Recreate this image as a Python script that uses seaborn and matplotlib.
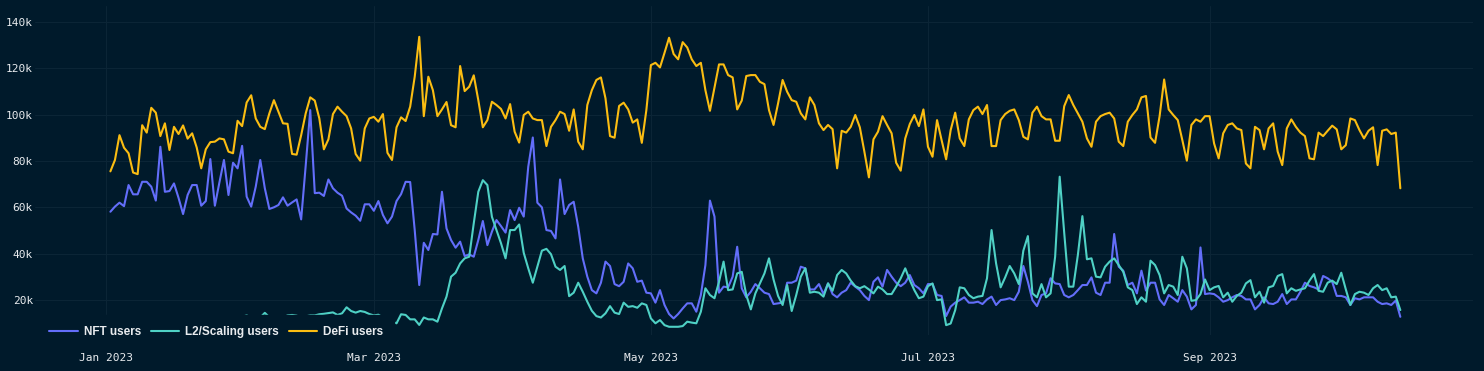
import pandas as pd
import numpy as np
import seaborn as sns
import matplotlib.pyplot as plt
import matplotlib.dates as mdates
from matplotlib.ticker import FuncFormatter, MultipleLocator

# daily values, first day 2023-01-02, in thousands of users
start_date = '2023-01-02'
series_names = ['NFT users', 'L2/Scaling users', 'DeFi users']

nft_users = [
    58.1, 60.3, 62.0, 60.5, 69.6, 65.6, 65.6, 71.0, 71.0, 68.9, 62.9, 86.1, 66.7, 67.0, 70.3, 64.1,
    57.1, 65.3, 69.6, 69.6, 60.7, 62.7, 80.8, 60.7, 70.7, 80.4, 65.3, 79.2, 76.8, 86.5, 64.6, 60.3,
    68.9, 80.4, 68.2, 59.3, 60.0, 61.0, 64.3, 60.7, 62.1, 63.4, 54.8, 78.0, 101.9, 66.1,
    66.3, 64.9, 72.0, 68.2, 66.3, 65.0, 59.5, 57.8, 56.4, 54.2, 61.3, 61.3, 58.5, 62.7, 56.7, 53.1,
    56.0, 62.7, 65.7, 71.0, 70.9, 50.2, 26.5, 44.7, 41.6, 48.5, 48.3, 66.7, 50.9, 45.9, 42.6, 45.2,
    39.0, 39.7, 38.7, 45.9, 54.1, 43.7, 49.5, 54.5, 51.9, 49.1, 58.8, 54.5, 59.8, 56.0, 77.5,
    90.1, 62.0, 60.0, 50.2, 49.8, 46.6, 72.0, 57.1, 61.0, 62.4, 51.6, 38.0, 30.1, 24.3, 22.9, 27.5,
    36.6, 34.7, 26.9, 26.0, 27.9, 35.8, 33.7, 27.9, 28.4, 23.2, 22.9, 18.9, 24.3, 17.9, 14.0, 12.1,
    14.0, 16.4, 18.6, 18.6, 15.0, 22.2, 35.1, 62.9, 56.0, 23.2, 25.8, 25.5, 30.1, 43.0,
    25.1, 21.2, 23.6, 26.9, 25.1, 23.2, 22.6, 18.3, 18.6, 18.9, 27.5, 27.5, 28.4, 34.4, 33.7, 24.6,
    24.6, 26.9, 22.6, 27.2, 22.6, 21.2, 23.2, 24.3, 27.5, 25.8, 24.3, 21.8, 20.0, 27.9, 29.8, 25.8,
    33.0, 30.1, 27.5, 26.0, 27.5, 30.8, 26.5, 25.1, 22.9, 26.9, 26.9, 22.2, 21.8, 13.1,
    17.2, 18.9, 20.0, 21.2, 18.9, 18.9, 19.3, 18.3, 20.3, 21.5, 17.9, 20.0, 20.3, 20.8, 20.0, 23.6,
    34.7, 27.9, 20.0, 17.4, 22.2, 22.9, 29.4, 27.2, 26.9, 22.2, 21.2, 22.2, 24.3, 26.5, 26.5, 29.8,
    23.2, 22.2, 27.5, 27.5, 48.5, 34.4, 32.7, 26.5, 27.5, 22.9, 32.7, 24.1, 27.5, 27.5, 20.3, 17.9,
    22.2, 20.8, 19.3,
    24.3, 21.5, 16.0, 17.9, 42.7, 22.6, 22.9, 22.6, 21.2, 19.3, 20.0, 21.2, 22.2, 21.8, 20.3, 20.3,
    16.0, 17.9, 21.2, 18.6, 18.3, 19.3, 22.6, 18.3, 20.3, 20.3, 23.6, 27.5, 26.1, 25.5, 24.6, 30.4,
    29.4, 27.9, 21.8, 21.8, 21.2, 17.9, 20.8, 20.3, 21.2, 21.2, 21.2, 19.3, 18.3, 18.6, 17.9, 19.8,
    12.8,
]

# January values sit behind the legend box in the original, only a few peaks show
l2_users = [
    9.5, 10.0, 10.2, 9.8, 10.5, 9.2, 9.0, 10.8, 10.4, 10.6, 10.3, 9.9, 10.3, 9.6, 10.7, 10.5,
    10.2, 9.4, 9.8, 10.6, 9.9, 10.4, 10.8, 10.1, 9.7, 10.5, 10.9, 10.2, 11.0,
    12.8, 13.4, 12.5, 11.5, 12.5, 14.5, 12.6, 11.5, 11.8, 12.5, 13.4, 13.6, 13.3, 12.5, 13.0, 13.4,
    13.4, 13.9, 14.1, 14.4, 14.7, 13.6, 14.3, 16.9, 15.3, 14.6, 15.3, 14.9, 14.0, 13.4, 13.7, 12.5,
    11.7, 10.7, 10.0, 13.9, 13.6, 11.7, 11.7, 9.3, 12.5, 11.7, 11.7, 10.7, 16.4, 21.5, 30.1, 31.8,
    35.8, 38.0, 38.7, 53.1, 66.7, 71.7, 69.6, 55.9, 50.2, 44.5, 38.0, 50.2, 50.2, 52.6, 40.4, 33.7,
    27.5, 34.4, 41.3, 42.1, 39.8, 34.4, 33.0, 34.7, 21.7, 23.2, 27.5, 23.6, 19.3, 15.4, 13.1, 12.5,
    14.3, 17.4, 14.6, 14.0, 18.9, 17.1, 17.4, 16.7, 18.6, 17.9, 12.1, 10.0, 11.4, 9.2, 8.5, 8.5,
    8.5, 8.8, 10.7, 10.3, 10.0, 15.0, 25.1, 22.2, 20.8, 27.9, 36.6, 24.3, 24.6, 31.5,
    32.2, 22.2, 16.0, 22.9, 27.2, 31.5, 38.0, 28.9, 21.8, 17.9, 26.5, 15.3, 22.2, 30.1, 33.7, 23.2,
    23.6, 23.2, 21.5, 27.2, 24.0, 30.8, 33.0, 31.5, 28.4, 26.0, 25.1, 26.0, 24.6, 22.9, 25.8, 24.6,
    22.6, 22.6, 25.8, 29.4, 33.7, 28.6, 24.3, 20.8, 21.5, 26.0, 27.2, 20.0, 20.3, 9.2,
    9.9, 15.7, 25.5, 25.1, 22.2, 20.8, 21.5, 21.8, 29.4, 50.2, 35.8, 25.5, 29.8, 34.7, 31.5, 26.9,
    41.3, 47.6, 22.9, 21.2, 26.9, 21.2, 22.9, 38.7, 73.2, 49.0, 25.8, 25.8, 39.4, 56.2, 37.6, 38.0,
    30.1, 29.8, 34.4, 36.6, 38.0, 35.1, 32.2, 25.5, 24.3, 18.3, 21.2, 19.3, 37.0, 35.1, 30.8, 22.9,
    26.5, 25.8, 22.2,
    38.7, 33.7, 19.7, 20.0, 22.6, 28.9, 24.3, 25.5, 26.1, 21.2, 23.2, 19.3, 21.8, 23.2, 27.2, 28.6,
    21.2, 23.6, 18.9, 25.5, 26.1, 30.4, 31.2, 22.9, 25.1, 24.0, 24.6, 25.1, 28.4, 31.2, 24.0, 23.6,
    27.5, 28.4, 26.9, 31.8, 24.6, 17.9, 22.6, 23.6, 23.2, 22.2, 25.1, 26.5, 24.3, 25.1, 21.2, 21.5,
    15.7,
]

defi_users = [
    75.5, 80.4, 91.1, 85.7, 83.3, 75.0, 74.3, 95.4, 92.2, 102.9, 100.8, 90.7, 96.2, 84.7, 94.7, 91.6,
    95.3, 89.6, 91.9, 85.8, 76.8, 85.0, 88.1, 88.3, 89.7, 89.3, 84.0, 83.3, 97.3, 95.0, 105.2, 108.3,
    98.3, 94.7, 93.7, 100.5, 106.2, 101.2, 96.2, 96.0, 83.0, 82.7, 91.1, 100.5, 107.4, 106.0,
    98.3, 85.0, 89.3, 100.2, 103.4, 101.2, 99.3, 94.0, 83.0, 80.1, 94.0, 98.3, 99.0, 96.9, 100.2, 83.5,
    80.4, 94.5, 98.8, 97.2, 103.4, 116.3, 133.5, 99.3, 116.3, 110.5, 99.3, 102.2, 105.4, 95.4, 94.5, 120.9,
    110.1, 112.0, 116.9, 106.2, 94.5, 97.6, 105.5, 104.1, 102.4, 98.3, 104.5, 92.6, 87.9, 99.8, 101.2,
    98.3, 97.6, 97.6, 86.4, 94.7, 97.6, 101.2, 100.2, 93.0, 102.2, 88.3, 85.0, 104.1, 110.5, 114.9, 116.0,
    107.0, 90.7, 90.0, 103.7, 105.1, 102.2, 96.5, 97.9, 87.8, 101.9, 121.3, 122.3, 120.3, 126.6, 133.1, 126.1,
    123.8, 131.2, 128.9, 123.8, 120.9, 122.3, 110.5, 101.6, 111.7, 121.6, 121.6, 117.0, 116.0, 102.2,
    106.0, 116.6, 117.0, 117.0, 114.1, 113.1, 101.9, 95.5, 104.8, 114.9, 109.8, 106.2, 105.5, 100.5, 97.9, 107.4,
    104.1, 96.2, 93.3, 95.5, 93.7, 76.8, 93.0, 92.2, 94.7, 99.8, 94.5, 84.0, 72.9, 89.3, 92.6, 99.3,
    95.5, 91.9, 79.2, 75.8, 89.7, 95.9, 99.8, 95.0, 102.2, 86.1, 81.8, 97.6, 89.0, 80.7,
    93.3, 100.8, 89.7, 86.4, 97.9, 101.9, 103.4, 100.2, 104.1, 86.4, 86.4, 97.6, 100.2, 101.6, 102.2, 97.6,
    90.4, 89.3, 100.8, 103.4, 99.3, 97.9, 97.9, 88.7, 88.7, 103.6, 108.4, 104.1, 100.5, 96.9, 89.7, 86.1,
    96.9, 99.3, 100.2, 100.8, 98.3, 88.3, 86.4, 96.9, 99.8, 102.2, 107.4, 108.0, 90.1, 87.8, 99.3, 115.1,
    102.2, 99.8, 97.6,
    89.0, 80.1, 95.5, 97.9, 96.9, 99.3, 99.3, 87.5, 81.1, 91.9, 95.5, 96.2, 94.0, 93.3, 78.9, 76.8,
    94.7, 93.3, 85.0, 94.0, 96.2, 84.0, 78.2, 94.0, 97.9, 94.7, 92.2, 90.7, 81.1, 80.7, 92.2, 90.7,
    93.0, 95.2, 93.6, 85.0, 86.8, 98.3, 97.6, 93.3, 89.7, 93.0, 94.5, 78.2, 93.0, 93.6, 91.6, 92.2,
    68.2,
]

bg = '#001a2b'
grid_c = '#0b2536'
text_c = '#e8ebee'
palette = {'NFT users': '#636efa', 'L2/Scaling users': '#4fd1c5', 'DeFi users': '#fbbd12'}

dates = pd.date_range(start_date, periods=len(defi_users), freq='D')
df = pd.DataFrame({
    'date': dates,
    'NFT users': np.array(nft_users) * 1000,
    'L2/Scaling users': np.array(l2_users) * 1000,
    'DeFi users': np.array(defi_users) * 1000,
})
long_df = df.melt(id_vars='date', var_name='series', value_name='users')

sns.set_theme(style='dark')
plt.rcParams['font.family'] = ['DejaVu Sans Mono']
plt.rcParams['lines.linewidth'] = 1.5

W, H = 1484, 371
fig = plt.figure(figsize=(W / 100, H / 100), dpi=100, facecolor=bg)
ax = fig.add_axes([35 / W, 36.1 / H, 1438 / W, 329.4 / H])
ax.set_facecolor(bg)

sns.lineplot(data=long_df, x='date', y='users', hue='series', hue_order=series_names,
             palette=palette, linewidth=1.5, ax=ax)

ax.set_ylim(5000, 147000)
ax.set_xlim(dates[0] - pd.Timedelta(days=16.6), dates[-1] + pd.Timedelta(days=16))
ax.yaxis.set_major_locator(MultipleLocator(20000))
ax.yaxis.set_major_formatter(FuncFormatter(lambda v, p: f'{int(v / 1000)}k'))
ax.xaxis.set_major_locator(mdates.MonthLocator(bymonth=[1, 3, 5, 7, 9]))
ax.xaxis.set_major_formatter(mdates.DateFormatter('%b %Y'))

ax.grid(True, color=grid_c, linewidth=0.8)
for s in ax.spines.values():
    s.set_visible(False)
ax.tick_params(axis='both', length=0, colors=text_c, labelsize=8)
ax.tick_params(axis='y', pad=1.5)
ax.tick_params(axis='x', pad=13)
ax.set_xlabel('')
ax.set_ylabel('')

# opaque legend box, it hides the low L2 values like the original
sns.move_legend(ax, 'center left', bbox_to_anchor=(-0.0015, 0.009), ncol=3, title=None,
                frameon=True, fancybox=False, framealpha=1, facecolor=bg, edgecolor=bg,
                borderpad=0.9, handlelength=2.4, handletextpad=0.5, columnspacing=0.85,
                labelcolor=text_c, prop={'family': 'Liberation Sans', 'weight': 'bold', 'size': 8.5})

fig.savefig('out.png', dpi=100, facecolor=bg)
